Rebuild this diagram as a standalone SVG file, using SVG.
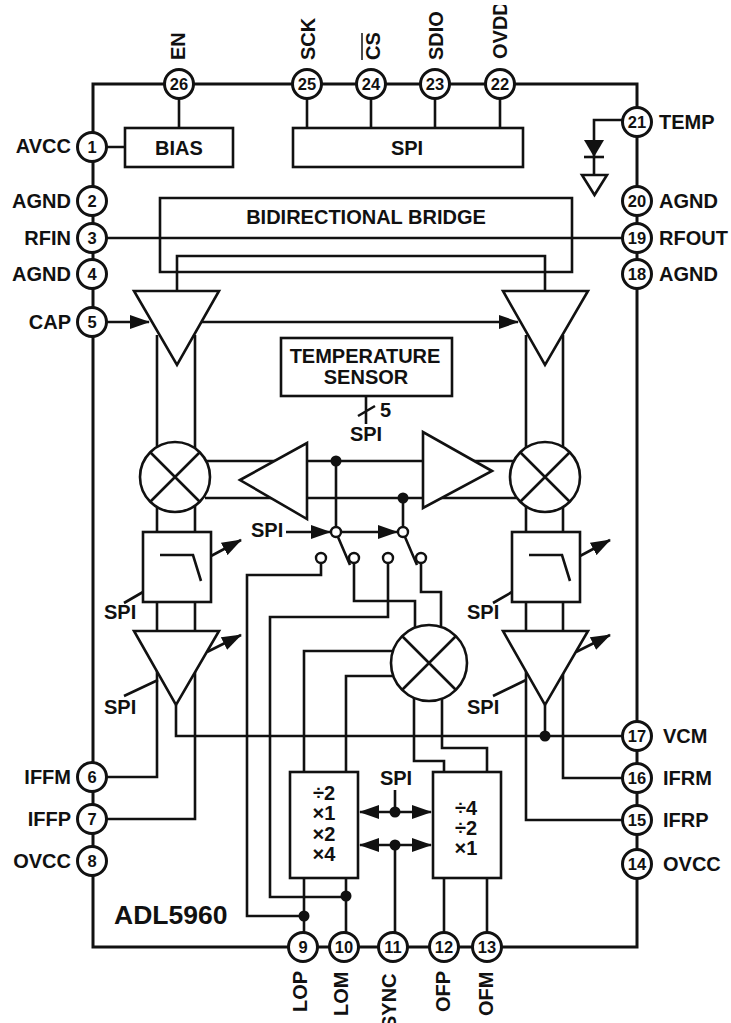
<svg xmlns="http://www.w3.org/2000/svg" width="731" height="1023" viewBox="0 0 731 1023">
<style>
text{font-family:"Liberation Sans",Arial,sans-serif;font-weight:bold;font-size:20px;fill:#111}
.m{text-anchor:middle}
.n{font-size:16.500px;text-anchor:middle}
.e{text-anchor:end}
.w{fill:none;stroke:#111;stroke-width:2.6}
.f{fill:#fff;stroke:#111;stroke-width:2.6}
.o{fill:none;stroke:#111;stroke-width:3}
.p{fill:#fff;stroke:#111;stroke-width:3}
.d{fill:#111}
.s{fill:#fff;stroke:#111;stroke-width:2.4}
</style>
<defs>
<marker id="a" markerUnits="userSpaceOnUse" markerWidth="20" markerHeight="14" refX="19" refY="7" orient="auto"><path d="M0 0L20 7L0 14Z" fill="#111"/></marker>
<marker id="b" markerUnits="userSpaceOnUse" markerWidth="20" markerHeight="14" refX="19" refY="7" orient="auto-start-reverse"><path d="M0 0L20 7L0 14Z" fill="#111"/></marker>
<clipPath id="c"><rect x="480" y="5" width="40" height="60"/></clipPath>
</defs>
<g id="package"><rect class="o" x="93" y="84" width="544" height="863"/></g>
<g id="connectors">
<path class="w" d="M179 84V128M307 84V128M371 84V128M435 84V128M500 84V128"/>
<path class="w" d="M107 147H125M107 238H622M177 291V256H545V291"/>
<path class="w" d="M622 120H594V175"/>
<path class="w" d="M107 322H149" marker-end="url(#a)"/>
<path class="w" d="M197 322H518" marker-end="url(#a)"/>
<path class="w" d="M157 335V777H107M195 335V819H107M526 335V820H622M563 335V778H622"/>
<path class="w" d="M176 705V736H622M545 705V736"/>
<path class="w" d="M205 461H545M205 498H545"/>
<path class="w" d="M336 461V527M403 498V527"/>
<path class="w" d="M286 532H330" marker-end="url(#a)"/>
<path class="w" d="M341 532H397" marker-end="url(#a)"/>
<path class="w" d="M338 537L350 565M405 537L417 565"/>
<path class="w" d="M321 563V575H247V916H304"/>
<path class="w" d="M388 563V617H270V897H346"/>
<path class="w" d="M354 563V601H415V630"/>
<path class="w" d="M421 563V592H441V626"/>
<path class="w" d="M393 651H304V772M393 676H346V772"/>
<path class="w" d="M414 695V761H444V772M442 698V748H487V772"/>
<path class="w" d="M304 878V933M346 878V933M444 878V933M487 878V933M395 790V812M395 845V933"/>
<path class="w" d="M360 812H431" marker-start="url(#b)" marker-end="url(#b)"/>
<path class="w" d="M360 845H431" marker-start="url(#b)" marker-end="url(#b)"/>
<path class="w" d="M366 396V424M358 416L375 406"/>
<path class="w" d="M124 603L143 592M493 603L512 592M124 696L158 680M493 696L526 680"/>
<path class="w" d="M211 556L241 540" marker-end="url(#a)"/>
<path class="w" d="M580 556L610 540" marker-end="url(#a)"/>
<path class="w" d="M207 652L241 635" marker-end="url(#a)"/>
<path class="w" d="M576 652L610 635" marker-end="url(#a)"/>
<g class="d"><circle cx="336" cy="461" r="5.5"/><circle cx="403" cy="498" r="5.5"/><circle cx="545" cy="736" r="5.5"/><circle cx="304" cy="916" r="5.5"/><circle cx="346" cy="896" r="5.5"/><circle cx="395" cy="812" r="5.5"/><circle cx="395" cy="845" r="5.5"/></g>
</g>
<g id="bridge"><path class="w" d="M160 238V198H572V272H160V238"/><text class="m" x="366" y="224">BIDIRECTIONAL BRIDGE</text></g>
<g id="bias"><rect class="f" x="125" y="128" width="108" height="39"/><text class="m" x="179" y="155">BIAS</text></g>
<g id="spi"><rect class="f" x="293" y="128" width="230" height="39"/><text class="m" x="407" y="155">SPI</text></g>
<g id="diode"><path class="d" d="M584 140H604L594 157Z"/><path class="w" d="M584 157H604"/><path class="f" d="M582 175H607L594.500 195Z"/></g>
<g id="amp-left"><path class="f" d="M134 291H219L177 365Z"/></g>
<g id="amp-right"><path class="f" d="M503 291H588L545 365Z"/></g>
<g id="temperature-sensor"><rect class="f" x="281" y="338" width="171" height="58"/><text class="m" x="365" y="363">TEMPERATURE</text><text class="m" x="366" y="384">SENSOR</text></g>
<g id="mixer-left"><circle class="f" cx="175" cy="477" r="35"/><path class="w" d="M150 452L200 502M200 452L150 502"/></g>
<g id="mixer-right"><circle class="f" cx="545" cy="477" r="35"/><path class="w" d="M520 452L570 502M570 452L520 502"/></g>
<g id="lo-amp-left"><path class="f" d="M240 480L307 443V519Z"/></g>
<g id="lo-amp-right"><path class="f" d="M492 471L423 432V508Z"/></g>
<g id="switches">
<circle class="s" cx="336" cy="532" r="5"/><circle class="s" cx="403" cy="532" r="5"/>
<circle class="s" cx="321" cy="558" r="5"/><circle class="s" cx="354" cy="558" r="5"/><circle class="s" cx="388" cy="558" r="5"/><circle class="s" cx="421" cy="558" r="5"/>
</g>
<g id="filter-left"><rect class="f" x="143" y="532" width="68" height="70"/><path class="w" d="M160 555H193L201 581"/></g>
<g id="filter-right"><rect class="f" x="512" y="532" width="68" height="70"/><path class="w" d="M529 555H562L570 581"/></g>
<g id="if-amp-left"><path class="f" d="M134 631H219L176 705Z"/></g>
<g id="if-amp-right"><path class="f" d="M503 631H588L545 705Z"/></g>
<g id="mixer-center"><circle class="f" cx="429" cy="663" r="38"/><path class="w" d="M402 636L456 690M456 636L402 690"/></g>
<g id="lo-divider"><rect class="f" x="290" y="772" width="68" height="106"/><text class="m" x="324" y="800">÷2</text><text class="m" x="324" y="820">×1</text><text class="m" x="324" y="841">×2</text><text class="m" x="324" y="861">×4</text></g>
<g id="of-divider"><rect class="f" x="433" y="772" width="68" height="106"/><text class="m" x="466" y="815">÷4</text><text class="m" x="466" y="835">÷2</text><text class="m" x="466" y="855">×1</text></g>
<g id="labels">
<text class="m" x="366" y="441">SPI</text><text x="380" y="417">5</text>
<text x="251" y="537">SPI</text>
<text x="104" y="619">SPI</text><text x="467" y="619">SPI</text>
<text x="104" y="714">SPI</text><text x="467" y="714">SPI</text>
<text class="m" x="396" y="785">SPI</text>
<text x="114" y="924" style="font-size:26.500px">ADL5960</text>
</g>
<g id="pin-1"><circle class="p" cx="92" cy="147" r="14.500"/><text class="n" x="92" y="153">1</text><text class="e" x="71" y="153">AVCC</text></g>
<g id="pin-2"><circle class="p" cx="92" cy="201" r="14.500"/><text class="n" x="92" y="207">2</text><text class="e" x="71" y="208">AGND</text></g>
<g id="pin-3"><circle class="p" cx="92" cy="238" r="14.500"/><text class="n" x="92" y="244">3</text><text class="e" x="71" y="245">RFIN</text></g>
<g id="pin-4"><circle class="p" cx="92" cy="274" r="14.500"/><text class="n" x="92" y="280">4</text><text class="e" x="71" y="281">AGND</text></g>
<g id="pin-5"><circle class="p" cx="92" cy="322" r="14.500"/><text class="n" x="92" y="328">5</text><text class="e" x="71" y="329">CAP</text></g>
<g id="pin-6"><circle class="p" cx="92" cy="777" r="14.500"/><text class="n" x="92" y="783">6</text><text class="e" x="71" y="784">IFFM</text></g>
<g id="pin-7"><circle class="p" cx="92" cy="819" r="14.500"/><text class="n" x="92" y="825">7</text><text class="e" x="71" y="826">IFFP</text></g>
<g id="pin-8"><circle class="p" cx="92" cy="861" r="14.500"/><text class="n" x="92" y="867">8</text><text class="e" x="71" y="868">OVCC</text></g>
<g id="pin-21"><circle class="p" cx="637" cy="122" r="14.500"/><text class="n" x="637" y="128">21</text><text x="659" y="129">TEMP</text></g>
<g id="pin-20"><circle class="p" cx="637" cy="201" r="14.500"/><text class="n" x="637" y="207">20</text><text x="659" y="208">AGND</text></g>
<g id="pin-19"><circle class="p" cx="637" cy="238" r="14.500"/><text class="n" x="637" y="244">19</text><text x="659" y="245">RFOUT</text></g>
<g id="pin-18"><circle class="p" cx="637" cy="274" r="14.500"/><text class="n" x="637" y="280">18</text><text x="659" y="281">AGND</text></g>
<g id="pin-17"><circle class="p" cx="637" cy="736" r="14.500"/><text class="n" x="637" y="742">17</text><text x="663" y="743">VCM</text></g>
<g id="pin-16"><circle class="p" cx="637" cy="778" r="14.500"/><text class="n" x="637" y="784">16</text><text x="663" y="785">IFRM</text></g>
<g id="pin-15"><circle class="p" cx="637" cy="820" r="14.500"/><text class="n" x="637" y="826">15</text><text x="663" y="827">IFRP</text></g>
<g id="pin-14"><circle class="p" cx="637" cy="864" r="14.500"/><text class="n" x="637" y="870">14</text><text x="663" y="871">OVCC</text></g>
<g id="pin-26"><circle class="p" cx="179" cy="84" r="14.500"/><text class="n" x="179" y="90">26</text><text transform="translate(185 60) rotate(-90)">EN</text></g>
<g id="pin-25"><circle class="p" cx="307" cy="84" r="14.500"/><text class="n" x="307" y="90">25</text><text transform="translate(315 60) rotate(-90)">SCK</text></g>
<g id="pin-24"><circle class="p" cx="371" cy="84" r="14.500"/><text class="n" x="371" y="90">24</text><text transform="translate(380 60) rotate(-90)">CS</text><path class="w" style="stroke-width:1.500" d="M362 60V33"/></g>
<g id="pin-23"><circle class="p" cx="435" cy="84" r="14.500"/><text class="n" x="435" y="90">23</text><text transform="translate(443 60) rotate(-90)">SDIO</text></g>
<g id="pin-22"><circle class="p" cx="500" cy="84" r="14.500"/><text class="n" x="500" y="90">22</text><g clip-path="url(#c)"><text transform="translate(507 59) rotate(-90)">OVDD</text></g></g>
<g id="pin-9"><circle class="p" cx="303" cy="947" r="14.500"/><text class="n" x="303" y="953">9</text><text transform="translate(307 1012) rotate(-90)">LOP</text></g>
<g id="pin-10"><circle class="p" cx="344" cy="947" r="14.500"/><text class="n" x="344" y="953">10</text><text transform="translate(348 1016) rotate(-90)">LOM</text></g>
<g id="pin-11"><circle class="p" cx="393" cy="947" r="14.500"/><text class="n" x="393" y="953">11</text><text transform="translate(396 1029) rotate(-90)">SYNC</text></g>
<g id="pin-12"><circle class="p" cx="444" cy="947" r="14.500"/><text class="n" x="444" y="953">12</text><text transform="translate(450 1012) rotate(-90)">OFP</text></g>
<g id="pin-13"><circle class="p" cx="487" cy="947" r="14.500"/><text class="n" x="487" y="953">13</text><text transform="translate(493 1016) rotate(-90)">OFM</text></g>
</svg>
